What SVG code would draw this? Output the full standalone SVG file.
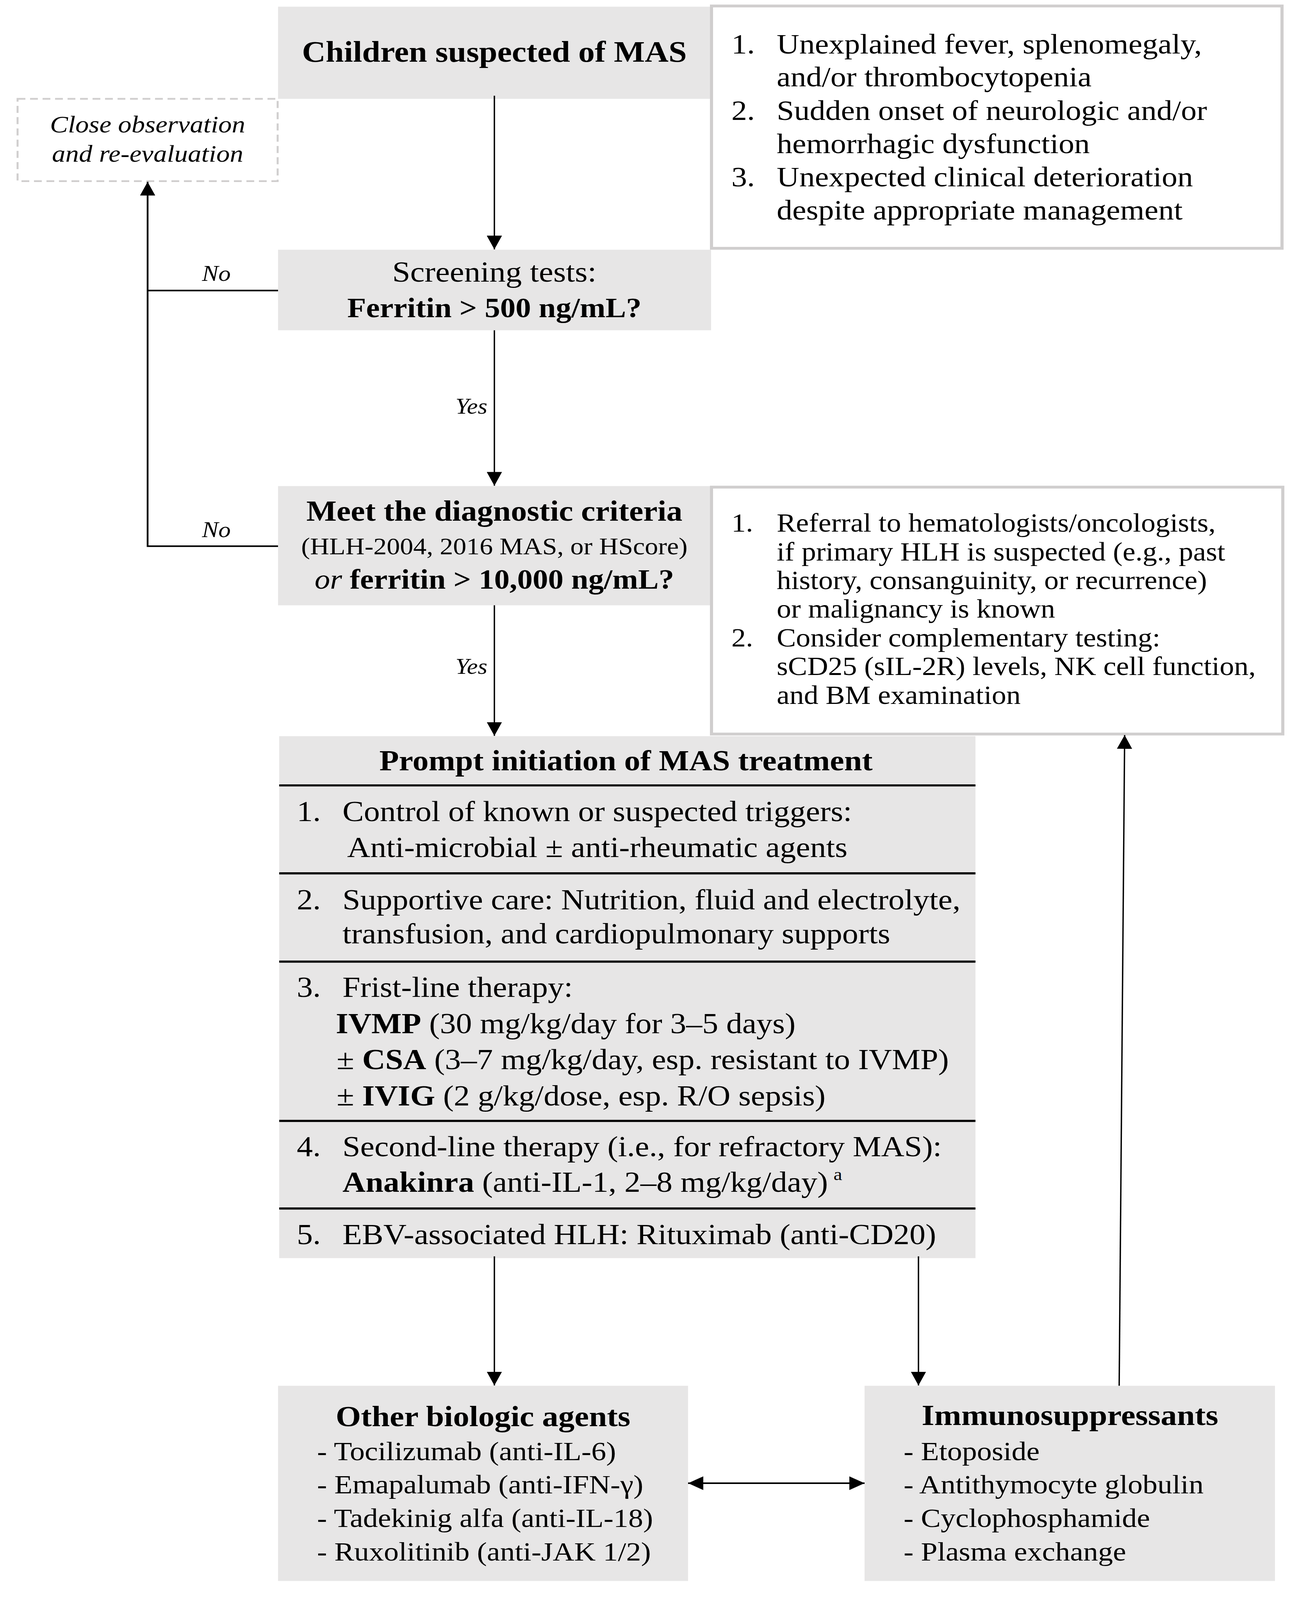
<svg xmlns="http://www.w3.org/2000/svg" width="3306" height="4549" viewBox="0 0 3306 4549">
<style>
.bg{fill:#ffffff}
.box{fill:#e7e6e6}
.note{fill:#ffffff;stroke:#d0cece;stroke-width:8}
.dash{fill:#ffffff;stroke:#d0cece;stroke-width:5;stroke-dasharray:20 12}
.sep{stroke:#000;stroke-width:6}
.t{font-family:"Liberation Serif","Times New Roman",serif;fill:#000}
.b{font-weight:bold}
.i{font-style:italic}
.c{text-anchor:middle}
.e{text-anchor:end}
.arr{stroke:#000;stroke-width:3.5;fill:none}
.loop{stroke:#000;stroke-width:4.5;fill:none}
.f84{font-size:84px}.f83{font-size:83px}.f82{font-size:82px}.f79{font-size:79px}
.f80{font-size:80px}.f76{font-size:76px}.f74{font-size:74px}.f69{font-size:69px}
.f68{font-size:68px}.f63{font-size:63px}
</style>
<defs>
<marker id="ah" markerUnits="userSpaceOnUse" markerWidth="39" markerHeight="39" viewBox="0 0 39 39" refX="39" refY="19.5" orient="auto-start-reverse">
<path d="M0,0 L39,19.5 L0,39 z" fill="#000"/>
</marker>
</defs>
<rect class="bg" x="0" y="0" width="3306" height="4549"/>

<g id="diagram" transform="scale(1,0.9004)">
<g id="start">
<rect class="box" x="712" y="19" width="1109" height="262"/>
<text class="t b c f84" x="1266" y="175">Children suspected of MAS</text>
</g>

<g id="warning-signs">
<rect class="note" x="1822" y="17" width="1461" height="689"/>
<g class="t f80">
<text x="1873" y="152">1.</text><text x="1989" y="152">Unexplained fever, splenomegaly,</text>
<text x="1989" y="246">and/or thrombocytopenia</text>
<text x="1873" y="341">2.</text><text x="1989" y="341">Sudden onset of neurologic and/or</text>
<text x="1989" y="435">hemorrhagic dysfunction</text>
<text x="1873" y="530">3.</text><text x="1989" y="530">Unexpected clinical deterioration</text>
<text x="1989" y="624">despite appropriate management</text>
</g>
</g>

<g id="observation">
<rect class="dash" x="45" y="281" width="666" height="234"/>
<text class="t i c f69" x="378" y="377">Close observation</text>
<text class="t i c f69" x="378" y="460">and re-evaluation</text>
</g>

<g id="screening">
<rect class="box" x="712" y="710" width="1109" height="229"/>
<text class="t c f83" x="1266" y="801">Screening tests:</text>
<text class="t b c f79" x="1266" y="902">Ferritin &gt; 500 ng/mL?</text>
</g>

<g id="criteria">
<rect class="box" x="712" y="1382" width="1109" height="339"/>
<text class="t b c f82" x="1266" y="1481">Meet the diagnostic criteria</text>
<text class="t c f68" x="1266" y="1576">(HLH-2004, 2016 MAS, or HScore)</text>
<text class="t c f79" x="1266" y="1674"><tspan class="i">or</tspan> <tspan class="b">ferritin &gt; 10,000 ng/mL?</tspan></text>
</g>

<g id="referral">
<rect class="note" x="1822" y="1385" width="1463" height="702"/>
<g class="t f74">
<text x="1873" y="1512">1.</text><text x="1989" y="1512">Referral to hematologists/oncologists,</text>
<text x="1989" y="1594">if primary HLH is suspected (e.g., past</text>
<text x="1989" y="1675">history, consanguinity, or recurrence)</text>
<text x="1989" y="1756">or malignancy is known</text>
<text x="1873" y="1838">2.</text><text x="1989" y="1838">Consider complementary testing:</text>
<text x="1989" y="1919">sCD25 (sIL-2R) levels, NK cell function,</text>
<text x="1989" y="2001">and BM examination</text>
</g>
</g>

<g id="treatment">
<rect class="box" x="715" y="2093" width="1783" height="1484"/>
<line class="sep" x1="715" y1="2233" x2="2498" y2="2233"/>
<line class="sep" x1="715" y1="2483" x2="2498" y2="2483"/>
<line class="sep" x1="715" y1="2734" x2="2498" y2="2734"/>
<line class="sep" x1="715" y1="3187" x2="2498" y2="3187"/>
<line class="sep" x1="715" y1="3436" x2="2498" y2="3436"/>
<text class="t b c f82" x="1603" y="2190">Prompt initiation of MAS treatment</text>
<g class="t f82">
<text x="760" y="2334">1.</text><text x="877" y="2334">Control of known or suspected triggers:</text>
<text x="889" y="2437">Anti-microbial ± anti-rheumatic agents</text>
<text x="760" y="2585">2.</text><text x="877" y="2585">Supportive care: Nutrition, fluid and electrolyte,</text>
<text x="877" y="2682">transfusion, and cardiopulmonary supports</text>
<text x="760" y="2834">3.</text><text x="877" y="2834">Frist-line therapy:</text>
<text x="860" y="2938"><tspan class="b">IVMP</tspan> (30 mg/kg/day for 3–5 days)</text>
<text x="862" y="3040">± <tspan class="b">CSA</tspan> (3–7 mg/kg/day, esp. resistant to IVMP)</text>
<text x="862" y="3143">± <tspan class="b">IVIG</tspan> (2 g/kg/dose, esp. R/O sepsis)</text>
<text x="760" y="3287">4.</text><text x="877" y="3287">Second-line therapy (i.e., for refractory MAS):</text>
<text x="877" y="3389"><tspan class="b">Anakinra</tspan> (anti-IL-1, 2–8 mg/kg/day)<tspan dx="14" dy="-34" font-size="50">a</tspan></text>
<text x="760" y="3537">5.</text><text x="877" y="3537">EBV-associated HLH: Rituximab (anti-CD20)</text>
</g>
</g>

<g id="biologic-agents">
<rect class="box" x="712" y="3940" width="1050" height="555"/>
<text class="t b c f83" x="1237" y="4055">Other biologic agents</text>
<g class="t f76">
<text x="812" y="4152">- Tocilizumab (anti-IL-6)</text>
<text x="812" y="4246">- Emapalumab (anti-IFN-γ)</text>
<text x="812" y="4341">- Tadekinig alfa (anti-IL-18)</text>
<text x="812" y="4437">- Ruxolitinib (anti-JAK 1/2)</text>
</g>
</g>

<g id="immunosuppressants">
<rect class="box" x="2214" y="3940" width="1051" height="555"/>
<text class="t b c f83" x="2740" y="4052">Immunosuppressants</text>
<g class="t f76">
<text x="2314" y="4152">- Etoposide</text>
<text x="2314" y="4246">- Antithymocyte globulin</text>
<text x="2314" y="4341">- Cyclophosphamide</text>
<text x="2314" y="4437">- Plasma exchange</text>
</g>
</g>

<g id="connectors">
<line class="arr" x1="1266" y1="272" x2="1266" y2="709" marker-end="url(#ah)"/>
<line class="arr" x1="1266" y1="939" x2="1266" y2="1381" marker-end="url(#ah)"/>
<line class="arr" x1="1266" y1="1721" x2="1266" y2="2092" marker-end="url(#ah)"/>
<line class="arr" x1="1266" y1="3572" x2="1266" y2="3939" marker-end="url(#ah)"/>
<line class="arr" x1="2352" y1="3572" x2="2352" y2="3939" marker-end="url(#ah)"/>
<line class="arr" x1="2866" y1="3940" x2="2880" y2="2090" marker-end="url(#ah)"/>
<line class="loop" x1="1762" y1="4217" x2="2214" y2="4217" marker-start="url(#ah)" marker-end="url(#ah)"/>
<path class="loop" d="M712,826 H378"/>
<path class="loop" d="M712,1553 H378 V517" marker-end="url(#ah)"/>
<text class="t i c f63" x="554" y="798">No</text>
<text class="t i c f63" x="554" y="1527">No</text>
<text class="t i e f63" x="1248" y="1176">Yes</text>
<text class="t i e f63" x="1248" y="1916">Yes</text>
</g>
</g>
</svg>
